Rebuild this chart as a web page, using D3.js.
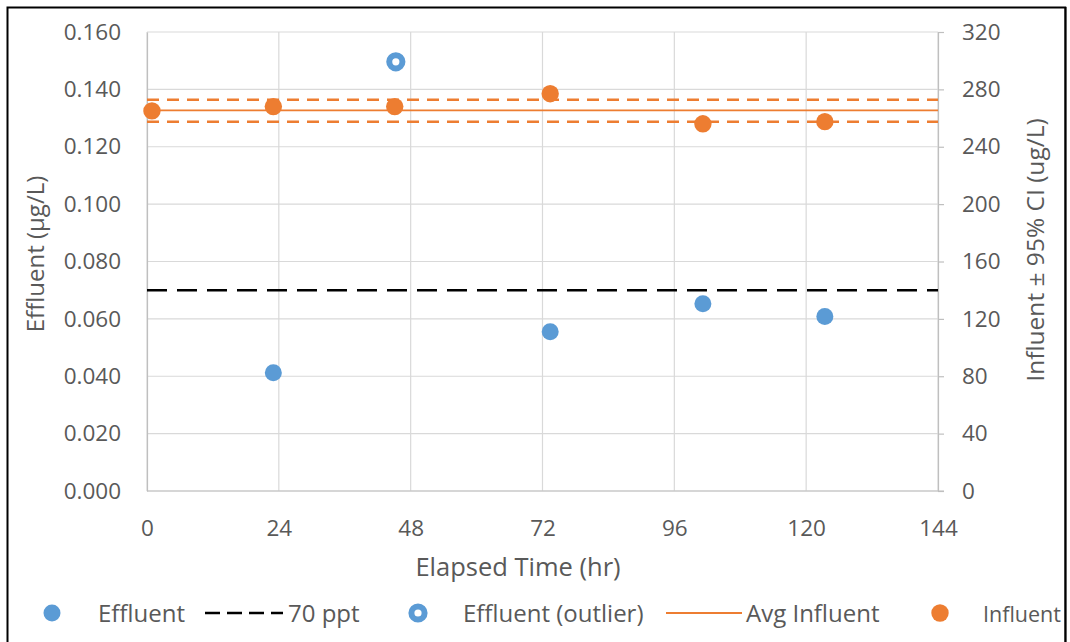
<!DOCTYPE html>
<html>
<head>
<meta charset="utf-8">
<script src="https://cdn.jsdelivr.net/npm/d3@7"></script>
<style>
  html, body { margin: 0; padding: 0; background: #fff; }
  svg { display: block; font-family: "Open Sans", sans-serif; }
</style>
</head>
<body>
<svg id="chart" width="1070" height="642"></svg>
<script>
// Elapsed sampling times (hr)
const effluentHours = [23, 73.4, 101.2, 123.4];
const effluentValues = [0.0412, 0.0555, 0.0653, 0.0608];   // µg/L
const outlierHours = [45.3];
const outlierValues = [0.1496];                           // µg/L
const influentHours = [0.9, 23, 45.1, 73.4, 101.2, 123.4];
const influentValues = [265, 268, 268, 277, 256, 257.5];  // ug/L
const avgInfluent = 265.3;
const ciUpper = 272.8;
const ciLower = 257.4;
const limitPpt = 0.070;  // 70 ppt in µg/L

const xTicks = [0, 24, 48, 72, 96, 120, 144];
const leftTicks = [0, 0.02, 0.04, 0.06, 0.08, 0.10, 0.12, 0.14, 0.16];
const rightTicks = [0, 40, 80, 120, 160, 200, 240, 280, 320];

const BLUE = "#5B9BD5", ORANGE = "#ED7D31", GRID = "#d9d9d9", TEXT = "#595959";

const svg = d3.select("#chart");
const m = { left: 147, right: 938, top: 32, bottom: 491 };

const x = d3.scaleLinear().domain([0, 144]).range([m.left, m.right]);
const yL = d3.scaleLinear().domain([0, 0.16]).range([m.bottom, m.top]);
const yR = d3.scaleLinear().domain([0, 320]).range([m.bottom, m.top]);

// outer frame
svg.append("rect").attr("x", 7.5).attr("y", 7.5).attr("width", 1058).attr("height", 700)
  .attr("fill", "none").attr("stroke", "#000").attr("stroke-width", 2);

// gridlines
svg.append("g").selectAll("line").data(leftTicks).join("line")
  .attr("x1", m.left).attr("x2", m.right)
  .attr("y1", d => yL(d)).attr("y2", d => yL(d))
  .attr("stroke", GRID).attr("stroke-width", 1.2);
svg.append("g").selectAll("line").data(xTicks).join("line")
  .attr("x1", d => x(d)).attr("x2", d => x(d))
  .attr("y1", m.top).attr("y2", m.bottom)
  .attr("stroke", GRID).attr("stroke-width", 1.2);

// axes
const fmtL = d3.format(".3f");
const axL = svg.append("g").attr("transform", `translate(${m.left},0)`)
  .call(d3.axisLeft(yL).tickValues(leftTicks).tickFormat(fmtL).tickSize(0).tickPadding(26));
const axR = svg.append("g").attr("transform", `translate(${m.right},0)`)
  .call(d3.axisRight(yR).tickValues(rightTicks).tickSize(6).tickPadding(18));
const axB = svg.append("g").attr("transform", `translate(0,${m.bottom})`)
  .call(d3.axisBottom(x).tickValues(xTicks).tickSize(0).tickPadding(29));
[axL, axR, axB].forEach(a => {
  a.select(".domain").attr("stroke", "#bfbfbf").attr("stroke-width", 1.2);
  a.selectAll(".tick line").attr("stroke", "#bfbfbf").attr("stroke-width", 1.2);
  a.selectAll(".tick text").attr("fill", TEXT).style("font-size", "22.5px")
    .style("font-family", "'Open Sans', sans-serif");
});
axB.select(".domain").attr("d", `M${m.left},0H${m.right + 6}`);

// axis titles
svg.append("text").attr("transform", `translate(44,254) rotate(-90)`)
  .attr("text-anchor", "middle").attr("fill", TEXT).style("font-size", "24px")
  .text("Effluent (µg/L)");
svg.append("text").attr("transform", `translate(1044,250) rotate(-90)`)
  .attr("text-anchor", "middle").attr("fill", TEXT).style("font-size", "24.5px")
  .text("Influent ± 95% CI (ug/L)");
svg.append("text").attr("x", 518).attr("y", 576)
  .attr("text-anchor", "middle").attr("fill", TEXT).style("font-size", "25.5px")
  .text("Elapsed Time (hr)");

// reference lines
const hline = (yv, scale, color, dash, w) => svg.append("line")
  .attr("x1", x(0)).attr("x2", x(144))
  .attr("y1", scale(yv)).attr("y2", scale(yv))
  .attr("stroke", color).attr("stroke-width", w)
  .attr("stroke-dasharray", dash);
hline(limitPpt, yL, "#000", "20,10", 2.5);
hline(ciUpper, yR, ORANGE, "12,8", 2.5);
hline(ciLower, yR, ORANGE, "12,8", 2.5);
hline(avgInfluent, yR, ORANGE, null, 1.8);

// influent points
svg.append("g").selectAll("circle").data(influentHours).join("circle")
  .attr("cx", d => x(d)).attr("cy", (d, i) => yR(influentValues[i]))
  .attr("r", 8.7).attr("fill", ORANGE);

// effluent points
svg.append("g").selectAll("circle").data(effluentHours).join("circle")
  .attr("cx", d => x(d)).attr("cy", (d, i) => yL(effluentValues[i]))
  .attr("r", 8.5).attr("fill", BLUE);

// outlier
svg.append("g").selectAll("circle").data(outlierHours).join("circle")
  .attr("cx", d => x(d)).attr("cy", (d, i) => yL(outlierValues[i]))
  .attr("r", 6.6).attr("fill", "#fff").attr("stroke", BLUE).attr("stroke-width", 6);

// legend
const lg = svg.append("g").attr("transform", "translate(0,613)");
const ltxt = (xp, t, fs = 24) => lg.append("text").attr("x", xp).attr("y", 9).attr("fill", TEXT)
  .style("font-size", fs + "px").text(t);
lg.append("circle").attr("cx", 52).attr("cy", 0).attr("r", 8.5).attr("fill", BLUE);
ltxt(98, "Effluent");
lg.append("line").attr("x1", 205).attr("x2", 283).attr("y1", 0).attr("y2", 0)
  .attr("stroke", "#000").attr("stroke-width", 2.5).attr("stroke-dasharray", "15,7");
ltxt(288, "70 ppt");
lg.append("circle").attr("cx", 418).attr("cy", 0).attr("r", 6.6).attr("fill", "#fff")
  .attr("stroke", BLUE).attr("stroke-width", 6);
ltxt(463, "Effluent (outlier)");
lg.append("line").attr("x1", 666).attr("x2", 742).attr("y1", 0).attr("y2", 0)
  .attr("stroke", ORANGE).attr("stroke-width", 2);
ltxt(746, "Avg Influent");
lg.append("circle").attr("cx", 940).attr("cy", 0).attr("r", 8.7).attr("fill", ORANGE);
ltxt(983, "Influent", 21.5);

// right edge of the frame
svg.append("rect").attr("x", 1066.5).attr("y", 0).attr("width", 10).attr("height", 642).attr("fill", "#fff");
svg.append("line").attr("x1", 1065.5).attr("x2", 1065.5).attr("y1", 7).attr("y2", 642)
  .attr("stroke", "#000").attr("stroke-width", 2);
</script>
</body>
</html>
